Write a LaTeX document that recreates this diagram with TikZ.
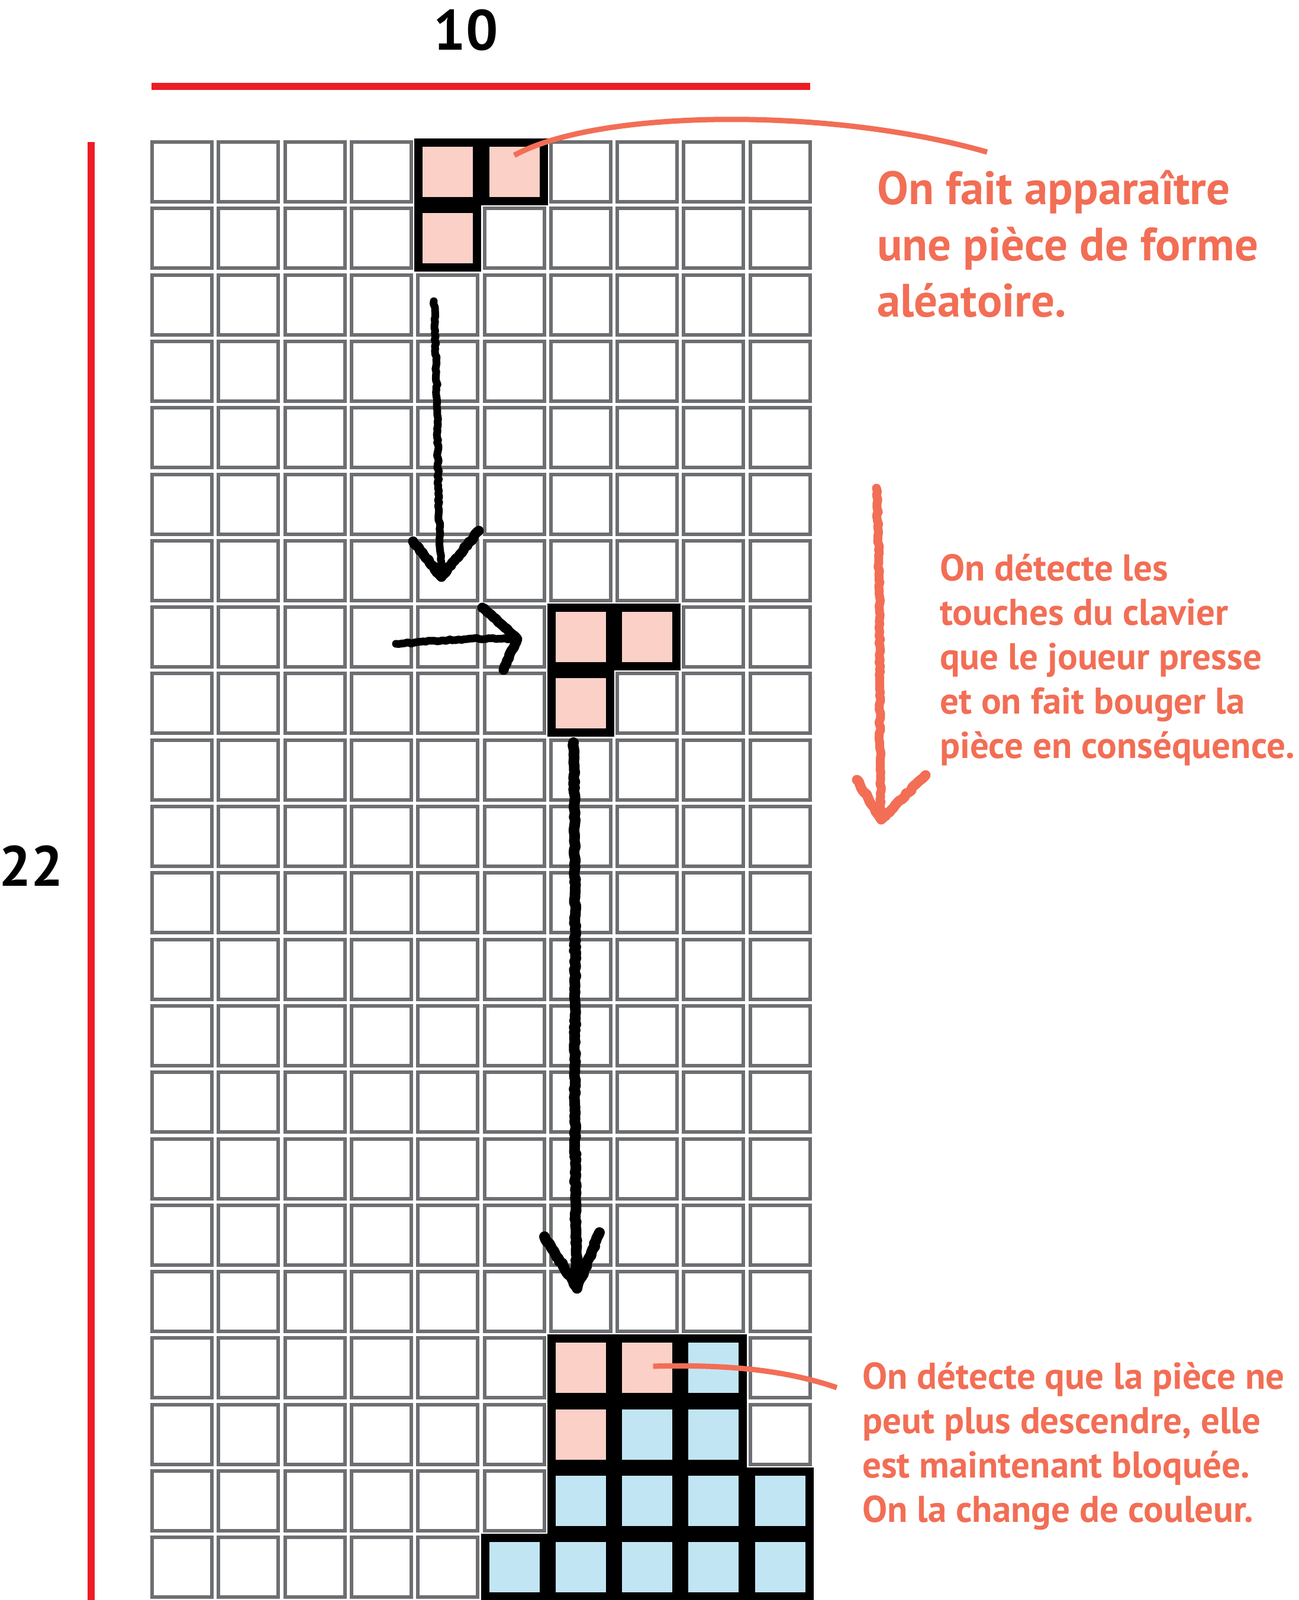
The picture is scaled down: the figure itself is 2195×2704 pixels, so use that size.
\documentclass[tikz,border=0pt]{standalone}
\usepackage{fontspec}
\setmainfont{PT Sans}
\usepackage{tikz}
\usetikzlibrary{decorations.pathmorphing}

\definecolor{gridgray}{HTML}{6D6E71}
\definecolor{dimred}{HTML}{ED1C24}
\definecolor{notecolor}{HTML}{F26E55}
\definecolor{pinkfill}{HTML}{FAD0C7}
\definecolor{bluefill}{HTML}{C2E5F3}

\tikzset{
  cell/.style={draw=gridgray, line width=6pt},
  piece/.style={rectangle, draw=black, line width=14pt, minimum size=99pt, inner sep=0pt},
  pinkpiece/.style={piece, fill=pinkfill},
  bluepiece/.style={piece, fill=bluefill},
  chalk/.style={line width=13pt, line cap=round, line join=round,
    decorate, decoration={random steps, segment length=5pt, amplitude=1.5pt}},
  link/.style={draw=notecolor, line width=9pt},
  note/.style={text=notecolor, align=left, anchor=base west, inner sep=0pt,
    font=\bfseries\fontsize{63}{75}\selectfont},
  dimlabel/.style={anchor=base, inner sep=0pt, font=\bfseries\fontsize{96}{100}\selectfont},
}

\begin{document}
\begin{tikzpicture}[x=1pt, y=-1pt]

\useasboundingbox (0,0) rectangle (2195,2704);

% dimension bars

\draw[dimred, line width=12pt] (256,146) -- (1369,146);
\draw[dimred, line width=12pt] (154,240) -- (154,2704);

\node[dimlabel] (width10) at (787,84) {10};
\node[dimlabel] (height22) at (53,1497) {22};

% grid 10 x 22

\foreach \c in {0,...,9}
  \foreach \r in {0,...,21}
    \draw[cell] ({257+112.3*\c},{240+112.3*\r}) rectangle ++(101,101);

% spawned piece

\node[pinkpiece] (spawnA) at (756.7, 290.5) {};
\node[pinkpiece] (spawnB) at (869.0, 290.5) {};
\node[pinkpiece] (spawnC) at (756.7, 402.8) {};

% moved piece

\node[pinkpiece] (moveA) at (981.3, 1076.6) {};
\node[pinkpiece] (moveB) at (1093.6, 1076.6) {};
\node[pinkpiece] (moveC) at (981.3, 1188.9) {};

% blocked pieces

\foreach \c/\r in {8/18, 7/19, 8/19, 6/20, 7/20, 8/20, 9/20, 5/21, 6/21, 7/21, 8/21, 9/21}
  \node[bluepiece] (stack-\c-\r) at ({307.5+112.3*\c},{290.5+112.3*\r}) {};

\node[pinkpiece] (landA) at (981.3, 2311.9) {};
\node[pinkpiece] (landB) at (1093.6, 2311.9) {};
\node[pinkpiece] (landC) at (981.3, 2424.2) {};

% moves of the piece

\coordinate (dropAstart) at (733,509);
\coordinate (dropAtip) at (746,975);
\coordinate (dropAleft) at (698,915);
\coordinate (dropAright) at (809,897);
\draw[chalk] (dropAstart) .. controls (742,700) and (738,850) .. (dropAtip);
\draw[chalk, line width=17pt] (dropAleft) -- (dropAtip) -- (dropAright);

\coordinate (slidestart) at (669,1088);
\coordinate (slidetip) at (874,1080);
\coordinate (slideup) at (815,1027);
\coordinate (slidedown) at (851,1132);
\draw[chalk] (slidestart) .. controls (740,1084) and (800,1076) .. (slidetip);
\draw[chalk, line width=17pt] (slideup) -- (slidetip) -- (slidedown);

\coordinate (dropBstart) at (969,1255);
\coordinate (dropBtip) at (975,2176);
\coordinate (dropBleft) at (920,2090);
\coordinate (dropBright) at (1013,2083);
\draw[chalk, line width=18pt] (dropBstart) .. controls (975,1600) and (968,1900) .. (dropBtip);
\draw[chalk, line width=18pt] (dropBleft) -- (dropBtip) -- (dropBright);

\coordinate (keysstart) at (1481,825);
\coordinate (keystip) at (1489,1385);
\coordinate (keysleft) at (1448,1318);
\coordinate (keysright) at (1564,1310);
\draw[chalk, notecolor, line width=15pt] (keysstart) .. controls (1490,1000) and (1484,1200) .. (keystip);
\draw[chalk, notecolor, line width=17pt] (keysleft) -- (keystip) -- (keysright);

% notes (anchored on the last line)

\node[note, font=\bfseries\fontsize{79}{95}\selectfont] (noteSpawn) at (1482,535)
  {On fait apparaître\\une pièce de forme\\aléatoire.};
\node[note] (noteKeys) at (1588,1281)
  {On détecte les\\touches du clavier\\que le joueur presse\\et on fait bouger la\\pièce en conséquence.};
\node[note] (noteLock) at (1457,2572)
  {On détecte que la pièce ne\\peut plus descendre, elle\\est maintenant bloquée.\\On la change de couleur.};

% links to the notes

\coordinate (spawnpt) at ([yshift=28pt]spawnB.center);
\coordinate (spawnend) at (1668,257);
\draw[link] (spawnpt) .. controls (1010,185) and (1400,180) .. (spawnend);

\coordinate (landpt) at ([xshift=10pt, yshift=3pt]landB.center);
\coordinate (landend) at (1414,2345);
\draw[link] (landpt) .. controls (1250,2305) and (1340,2320) .. (landend);

\end{tikzpicture}
\end{document}
